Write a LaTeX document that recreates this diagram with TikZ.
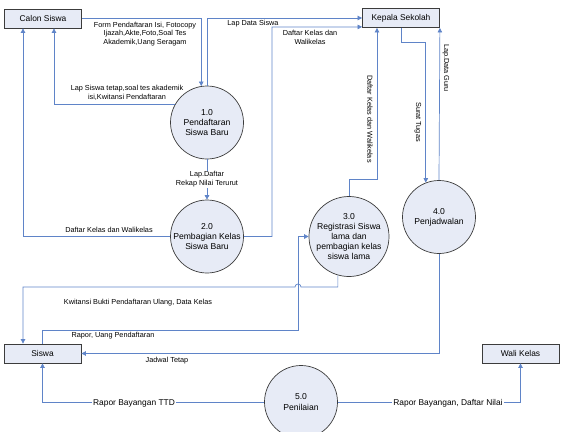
\documentclass[tikz,border=0pt]{standalone}
\usepackage{fontspec}
\setmainfont{Liberation Sans}
\usetikzlibrary{arrows.meta,calc}
\definecolor{flow}{RGB}{95,132,200}
\definecolor{shapefill}{RGB}{231,235,246}
\definecolor{edge}{RGB}{60,60,60}
\begin{document}
\begin{tikzpicture}[x=1pt,y=-1pt,
  entity/.style={draw=edge,line width=0.8pt,fill=shapefill,minimum width=77pt,minimum height=19pt,inner sep=0pt,font=\fontsize{8.4}{10}\selectfont},
  proc/.style={circle,draw=edge,line width=0.7pt,fill=shapefill,minimum size=73pt,inner sep=0pt,align=center,font=\fontsize{8.6}{10.2}\selectfont},
  flowline/.style={draw=flow,line width=0.7pt,-{Triangle[length=4.5pt,width=4.5pt]}},
  lbl/.style={font=\fontsize{7.3}{8.8}\selectfont,align=center,inner sep=1pt},
  biglbl/.style={font=\fontsize{8.4}{10}\selectfont,inner sep=1pt,fill=white}
]
\useasboundingbox (0,0) rectangle (562,431);
% entities
\node[entity] (cs) at (43,18.5) {Calon Siswa};
\node[entity] (ks) at (401,18) {Kepala Sekolah};
\node[entity] (siswa) at (42.5,353.5) {Siswa};
\node[entity] (wk) at (520.5,353.5) {Wali Kelas};
% processes
\node[proc] (c1) at (207,122.5) {1.0\\Pendaftaran\\Siswa Baru};
\node[proc] (c2) at (207,236.5) {2.0\\Pembagian Kelas\\Siswa Baru};
\node[proc] (c3) at (349,236.5) {3.0\\Registrasi Siswa\\lama dan\\pembagian kelas\\siswa lama};
\node[proc] (c4) at (439,217) {4.0\\Penjadwalan};
\node[proc] (c5) at (301,402) {5.0\\Penilaian};
% flows
\draw[flowline] (cs.east) -| (c1.99);
\draw[flowline] (c1.north) |- (ks.west);
\draw[flowline] (c1.150) -| ($(cs.south)+(11,0)$);
\draw[flowline] (c1.south) -- (c2.north) node[midway,lbl,fill=white] {Lap.Daftar\\Rekap Nilai Terurut};
\draw[flowline] (c2.west) -| ($(cs.south)+(-20,0)$);
\draw[flowline] (c2.east) -| (272,27) -- ($(ks.south west)+(0,-1)$);
\draw[flowline] (c3.north) |- (377,179) -- ($(ks.south)+(-24,0)$);
\draw[flowline] (ks.south) -- (401,42) -| (c4.111);
\draw[flowline] (c4.north) -- (ks.south east);
\draw[flowline] (c4.south) |- (siswa.east);
\draw[flowline] (c3.254) |- (301,287) arc[start angle=0,end angle=180,radius=3pt] -| ($(siswa.north)+(-19.5,0)$);
\draw[flowline] (siswa.north) |- (298,330) |- (c3.west);
\draw[flowline] (c5.west) -| (siswa.south);
\draw[flowline] (c5.east) -| (wk.south);
% labels
\node[lbl] (l1) at (145,34) {Form Pendaftaran Isi, Fotocopy\\Ijazah,Akte,Foto,Soal Tes\\Akademik,Uang Seragam};
\node[lbl] (l2) at (127,92.5) {Lap Siswa tetap,soal tes akademik\\isi,Kwitansi Pendaftaran};
\node[lbl] (l3) at (253,24) {Lap Data Siswa};
\node[lbl] (l4) at (310,37.5) {Daftar Kelas dan\\Walikelas};
\node[lbl] (l5) at (109,229.5) {Daftar Kelas dan Walikelas};
\node[lbl,rotate=-90] (l6) at (370,119) {Daftar Kelas dan Walikelas};
\node[lbl,rotate=-90] (l7) at (418,122) {Surat Tugas};
\node[lbl,rotate=-90] (l8) at (446,68) {Lap.Data Guru};
\node[lbl] (l9) at (138,303) {Kwitansi Bukti Pendaftaran Ulang, Data Kelas};
\node[lbl] (l10) at (113,336) {Rapor, Uang Pendaftaran};
\node[lbl] (l11) at (167,361) {Jadwal Tetap};
\node[biglbl] (l12) at (134,403) {Rapor Bayangan TTD};
\node[biglbl] (l13) at (448,403) {Rapor Bayangan, Daftar Nilai};
\end{tikzpicture}
\end{document}
